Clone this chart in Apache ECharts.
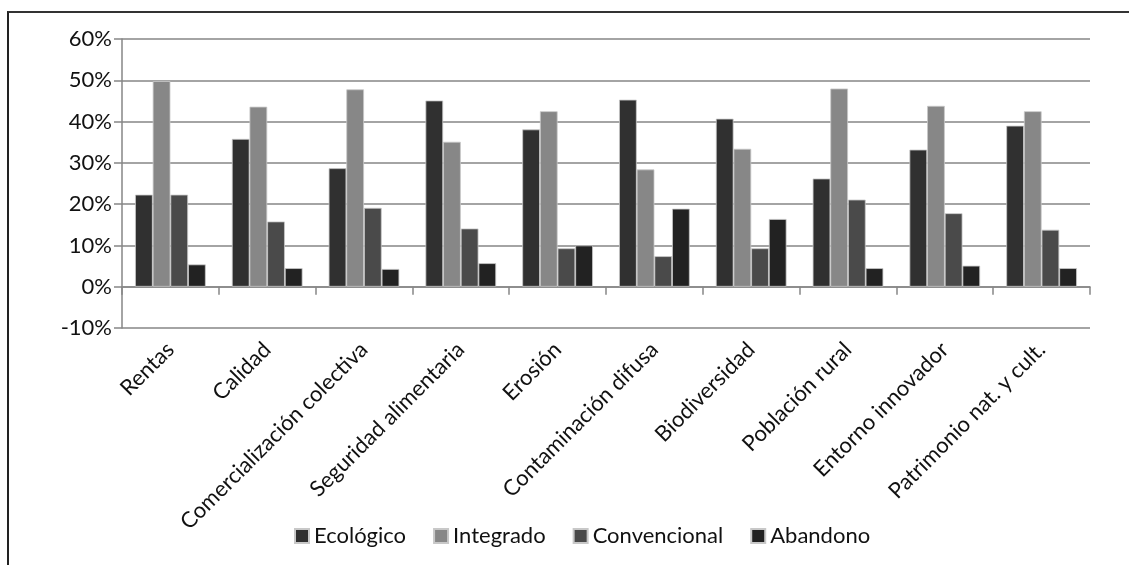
<!DOCTYPE html>
<html>
<head>
<meta charset="utf-8">
<script src="https://cdn.jsdelivr.net/npm/echarts@6/dist/echarts.min.js"></script>
<style>
html,body{margin:0;padding:0;background:#fff;}
#frame{position:absolute;left:7px;top:11px;width:1200px;height:600px;border-left:2px solid #222;border-top:2px solid #333;box-sizing:border-box;pointer-events:none;}
#chart{position:absolute;left:0;top:0;width:1129px;height:565px;}
</style>
</head>
<body>
<div id="chart"></div>
<div id="frame"></div>
<script>
const categories = ["Rentas","Calidad","Comercialización colectiva","Seguridad alimentaria","Erosión","Contaminación difusa","Biodiversidad","Población rural","Entorno innovador","Patrimonio nat. y cult."];
const ecologico    = [22.3, 35.8, 28.7, 45.1, 38.1, 45.3, 40.7, 26.2, 33.2, 39.0];
const integrado    = [49.8, 43.6, 47.8, 35.1, 42.5, 28.4, 33.4, 48.0, 43.8, 42.5];
const convencional = [22.3, 15.8, 19.1, 14.1, 9.3, 7.4, 9.3, 21.1, 17.8, 13.8];
const abandono     = [5.4, 4.5, 4.3, 5.7, 10.0, 18.9, 16.4, 4.5, 5.1, 4.5];
const seriesNames = ["Ecológico","Integrado","Convencional","Abandono"];
const seriesColors = ["#303030","#878787","#4a4a4a","#222222"];
const seriesData = [ecologico, integrado, convencional, abandono];

const FONT = "Lato";
const chart = echarts.init(document.getElementById('chart'));
chart.setOption({
  animation: false,
  textStyle: {fontFamily: FONT},
  legend: {
    bottom: 13,
    left: 289,
    itemWidth: 14,
    itemHeight: 14,
    itemGap: 27,
    icon: 'rect',
    textStyle: {fontFamily: FONT, fontSize: 22, color: '#111'},
    data: seriesNames
  },
  grid: {left: 122, right: 39, top: 39, bottom: 237, containLabel: false},
  xAxis: {
    type: 'category',
    data: categories,
    axisLine: {onZero: true, lineStyle: {color: '#868686', width: 1.5}},
    axisTick: {show: true, length: 8, lineStyle: {color: '#868686', width: 1.5}},
    axisLabel: {rotate: 45, margin: 18, fontFamily: FONT, fontSize: 22, color: '#111', interval: 0}
  },
  yAxis: {
    type: 'value',
    min: -10, max: 60, interval: 10,
    axisLine: {show: true, lineStyle: {color: '#868686', width: 1.5}},
    axisTick: {show: true, length: 8, lineStyle: {color: '#868686', width: 1.5}},
    axisLabel: {formatter: '{value}%', fontFamily: FONT, fontSize: 22, color: '#111', margin: 10},
    splitLine: {lineStyle: {color: '#868686', width: 1.5}}
  },
  series: seriesData.map((d, i) => ({
    name: seriesNames[i],
    type: 'bar',
    data: d,
    barGap: '0%',
    barCategoryGap: '27%',
    itemStyle: {color: seriesColors[i], borderColor: '#c8c8c8', borderWidth: 0.8}
  }))
});
</script>
</body>
</html>
